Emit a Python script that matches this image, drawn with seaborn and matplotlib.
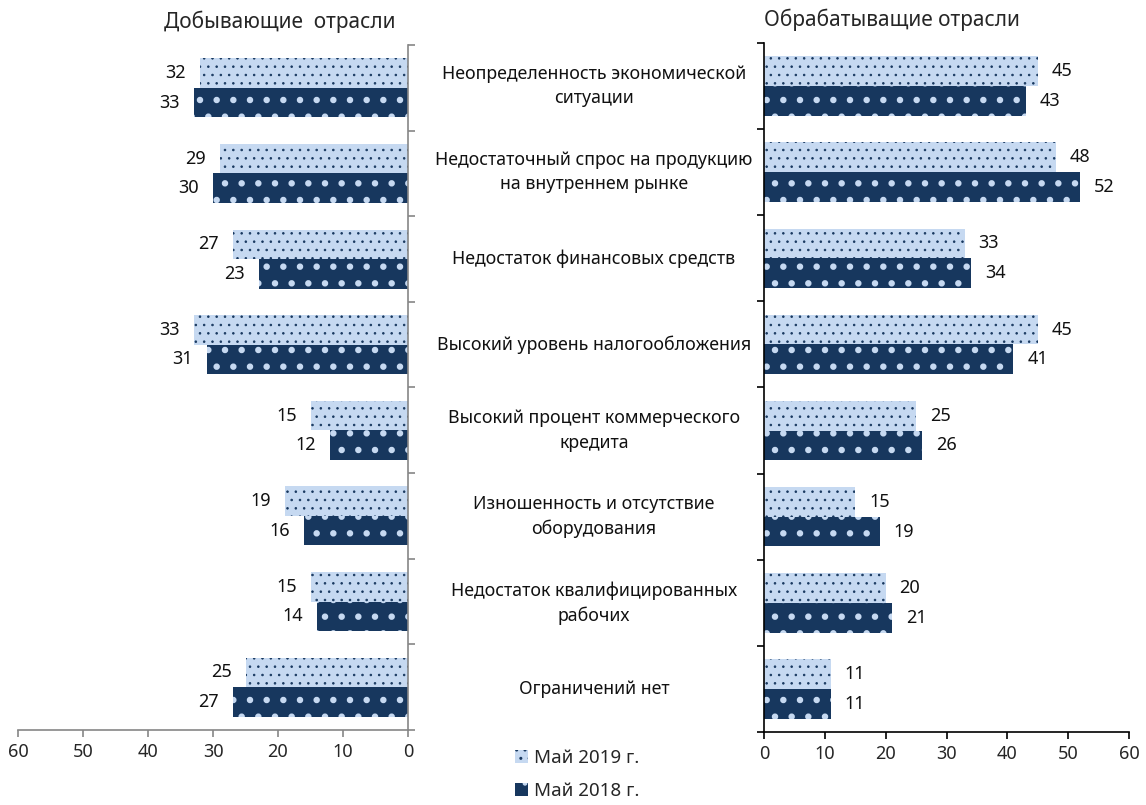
import matplotlib
matplotlib.use("Agg")
import matplotlib.pyplot as plt
import seaborn as sns
import pandas as pd
from matplotlib.transforms import blended_transform_factory

categories = [
    "Неопределенность экономической\nситуации",
    "Недостаточный спрос на продукцию\nна внутреннем рынке",
    "Недостаток финансовых средств",
    "Высокий уровень налогообложения",
    "Высокий процент коммерческого\nкредита",
    "Изношенность и отсутствие\nоборудования",
    "Недостаток квалифицированных\nрабочих",
    "Ограничений нет",
]
series_names = ["Май 2019 г.", "Май 2018 г."]
mining_2019 = [32, 29, 27, 33, 15, 19, 15, 25]
mining_2018 = [33, 30, 23, 31, 12, 16, 14, 27]
manuf_2019 = [45, 48, 33, 45, 25, 15, 20, 11]
manuf_2018 = [43, 52, 34, 41, 26, 19, 21, 11]
x_ticks = [0, 10, 20, 30, 40, 50, 60]
title_left = "Добывающие  отрасли"
title_right = "Обрабатыващие отрасли"

LIGHT = "#C6D9F1"
DARK = "#17375E"

sns.set_theme(style="white")
plt.rcParams["font.family"] = ["Noto Sans", "DejaVu Sans"]


def long_df(v19, v18):
    return pd.DataFrame({
        "cat": categories * 2,
        "val": list(v19) + list(v18),
        "year": [series_names[0]] * len(categories) + [series_names[1]] * len(categories),
    })


fig = plt.figure(figsize=(11.46, 8.05), dpi=100)
ax_l = fig.add_axes([18 / 1146, 1 - 730 / 805, (408 - 18) / 1146, (730 - 45) / 805])
ax_r = fig.add_axes([764 / 1146, 1 - 732 / 805, (1129 - 764) / 1146, (732 - 43) / 805])

palette = {series_names[0]: LIGHT, series_names[1]: DARK}
hatch_cols = [DARK, LIGHT]
hatches = ["..", "."]
hatch_lws = [0.6, 2.2]

for ax, v19, v18, spine_col, sign in [(ax_l, mining_2019, mining_2018, "#868686", -1),
                                       (ax_r, manuf_2019, manuf_2018, "black", 1)]:
    sns.barplot(data=long_df(v19, v18), x="val", y="cat", hue="year",
                hue_order=series_names, order=categories, palette=palette,
                orient="h", width=0.69, saturation=1, legend=False, ax=ax)
    for i, cont in enumerate(ax.containers):
        for p in cont:
            p.set_hatch(hatches[i])
            p.set_edgecolor(hatch_cols[i])
            p.set_linewidth(0)
            if hasattr(p, "set_hatch_linewidth"):
                p.set_hatch_linewidth(hatch_lws[i])
            w = p.get_width()
            yc = p.get_y() + p.get_height() / 2
            ax.annotate(f"{w:g}", xy=(w, yc), xytext=(sign * 10, 0),
                        textcoords="offset points",
                        ha="left" if sign > 0 else "right", va="center",
                        fontsize=13, color="#111111")
    ax.set_ylim(len(categories) - 0.5, -0.5)
    ax.set_yticks([i - 0.5 for i in range(len(categories) + 1)])
    ax.set_yticklabels([])
    ax.set_xticks(x_ticks)
    ax.set_xticklabels([str(t) for t in x_ticks], fontsize=13)
    ax.set_xlabel("")
    ax.set_ylabel("")
    for s in ax.spines.values():
        s.set_color(spine_col)
        s.set_linewidth(1.2)
    ax.tick_params(axis="both", direction="out", length=5, width=1.2,
                   color=spine_col, bottom=True, pad=4)

# left axis: reversed, spine on the right
ax_l.set_xlim(60, 0)
ax_l.spines["left"].set_visible(False)
ax_l.spines["top"].set_visible(False)
ax_l.yaxis.tick_right()
ax_l.tick_params(axis="y", left=False, right=True)

ax_r.set_xlim(0, 60)
ax_r.spines["right"].set_visible(False)
ax_r.spines["top"].set_visible(False)
ax_r.tick_params(axis="y", left=True, right=False)

# category labels in the middle
tr = blended_transform_factory(ax_r.transAxes, ax_r.transData)
cx = (594 - 764) / (1129 - 764)
for i, c in enumerate(categories):
    ax_r.text(cx, i, c, transform=tr, ha="center", va="center", fontsize=12.8,
              linespacing=1.45, color="#111111")

fig.text(280 / 1146, 1 - 22 / 805, title_left, ha="center", va="center", fontsize=15)
fig.text(764 / 1146, 1 - 20 / 805, title_right, ha="left", va="center", fontsize=15)

handles = [ax_r.containers[0][0], ax_r.containers[1][0]]
fig.legend(handles, series_names, loc="upper left", bbox_to_anchor=(498 / 1146, 1 - 732 / 805),
           frameon=False, fontsize=13.5, handlelength=0.7, handleheight=0.7,
           handletextpad=0.3, labelspacing=0.8)

fig.savefig("out.png", dpi=100)
